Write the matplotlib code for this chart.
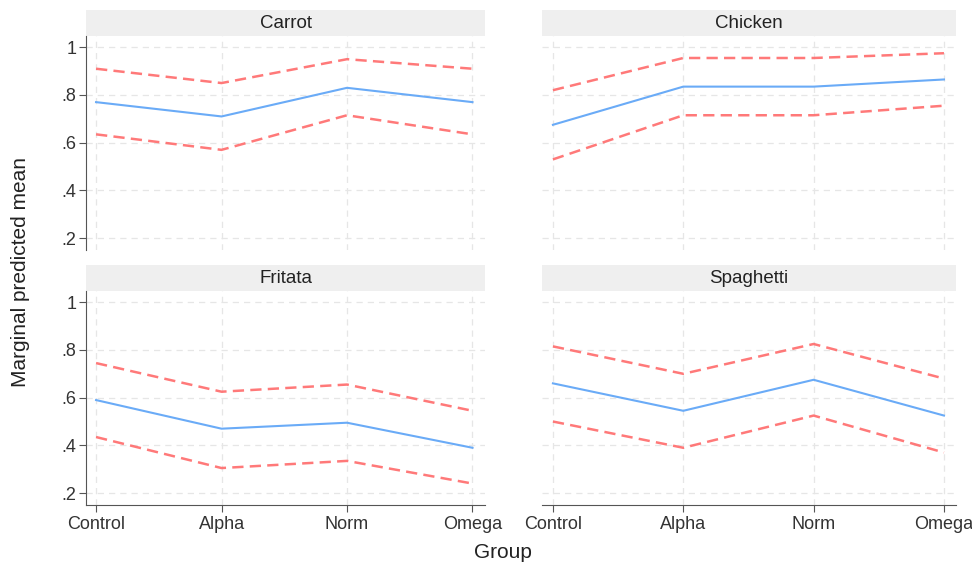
import matplotlib
matplotlib.use("Agg")
import matplotlib.pyplot as plt
from matplotlib.patches import Rectangle

plt.rcParams['font.family'] = ['Liberation Sans', 'DejaVu Sans']

# DATA
groups = ["Control", "Alpha", "Norm", "Omega"]
panels = ["Carrot", "Chicken", "Fritata", "Spaghetti"]

carrot_mean = [0.77, 0.71, 0.83, 0.77]
carrot_hi = [0.91, 0.85, 0.95, 0.91]
carrot_lo = [0.635, 0.57, 0.715, 0.635]

chicken_mean = [0.675, 0.835, 0.835, 0.865]
chicken_hi = [0.82, 0.955, 0.955, 0.975]
chicken_lo = [0.53, 0.715, 0.715, 0.755]

fritata_mean = [0.59, 0.47, 0.495, 0.39]
fritata_hi = [0.745, 0.625, 0.655, 0.545]
fritata_lo = [0.435, 0.305, 0.335, 0.24]

spaghetti_mean = [0.66, 0.545, 0.675, 0.525]
spaghetti_hi = [0.815, 0.70, 0.825, 0.68]
spaghetti_lo = [0.50, 0.39, 0.525, 0.37]

yticks = [0.2, 0.4, 0.6, 0.8, 1.0]
ytick_labels = [".2", ".4", ".6", ".8", "1"]

data = {
    "Carrot": (carrot_mean, carrot_hi, carrot_lo),
    "Chicken": (chicken_mean, chicken_hi, chicken_lo),
    "Fritata": (fritata_mean, fritata_hi, fritata_lo),
    "Spaghetti": (spaghetti_mean, spaghetti_hi, spaghetti_lo),
}

# PLOT
fig = plt.figure(figsize=(9.72, 5.67), dpi=100)

lefts = [0.0885, 0.5576]
width_l = 0.4105
width_r = 0.4259
bottoms = [0.559, 0.1093]
height = 0.377

x = list(range(len(groups)))
txt = "#333333"

for i, name in enumerate(panels):
    row, col = divmod(i, 2)
    w = width_l if col == 0 else width_r
    ax = fig.add_axes([lefts[col], bottoms[row], w, height])
    mean, hi, lo = data[name]

    ax.plot(x, hi, color="#ff6b6b", lw=1.8, ls=(0, (4.5, 2.5)), alpha=0.9)
    ax.plot(x, lo, color="#ff6b6b", lw=1.8, ls=(0, (4.5, 2.5)), alpha=0.9)
    ax.plot(x, mean, color="#6aabf7", lw=1.5)

    if col == 0:
        ax.set_xlim(-0.08, 3.1)
    else:
        ax.set_xlim(-0.084, 3.092)
    ax.set_ylim(0.15, 1.046)

    ax.set_xticks(x)
    ax.set_yticks(yticks)
    ax.grid(True, color="#e6e6e6", ls=(0, (5, 4)), lw=0.9)
    ax.set_axisbelow(True)

    for s in ["top", "right"]:
        ax.spines[s].set_visible(False)

    if col == 0:
        ax.set_yticklabels(ytick_labels, fontsize=13, color=txt)
        ax.spines["left"].set_color("#555555")
        ax.tick_params(axis="y", length=5, color="#555555", pad=2)
    else:
        ax.spines["left"].set_visible(False)
        ax.tick_params(axis="y", length=0, labelleft=False)

    if row == 1:
        ax.set_xticklabels(groups, fontsize=13, color=txt)
        ax.spines["bottom"].set_color("#555555")
        ax.tick_params(axis="x", length=5, color="#555555", pad=3)
    else:
        ax.spines["bottom"].set_visible(False)
        ax.tick_params(axis="x", length=0, labelbottom=False)

    # strip title
    strip_h = 26 / 214
    ax.add_patch(Rectangle((0, 1.0), 1, strip_h, transform=ax.transAxes,
                           facecolor="#efefef", edgecolor="none", clip_on=False))
    ax.text(0.5, 1.0 + strip_h / 2, name, transform=ax.transAxes,
            ha="center", va="center", fontsize=13.5, color="#222222")

fig.text(0.021, 0.52, "Marginal predicted mean", rotation=90,
         ha="center", va="center", fontsize=15, color="#222222")
fig.text(0.517, 0.025, "Group", ha="center", va="center", fontsize=15,
         color="#222222")

plt.savefig("out.png", dpi=100)
